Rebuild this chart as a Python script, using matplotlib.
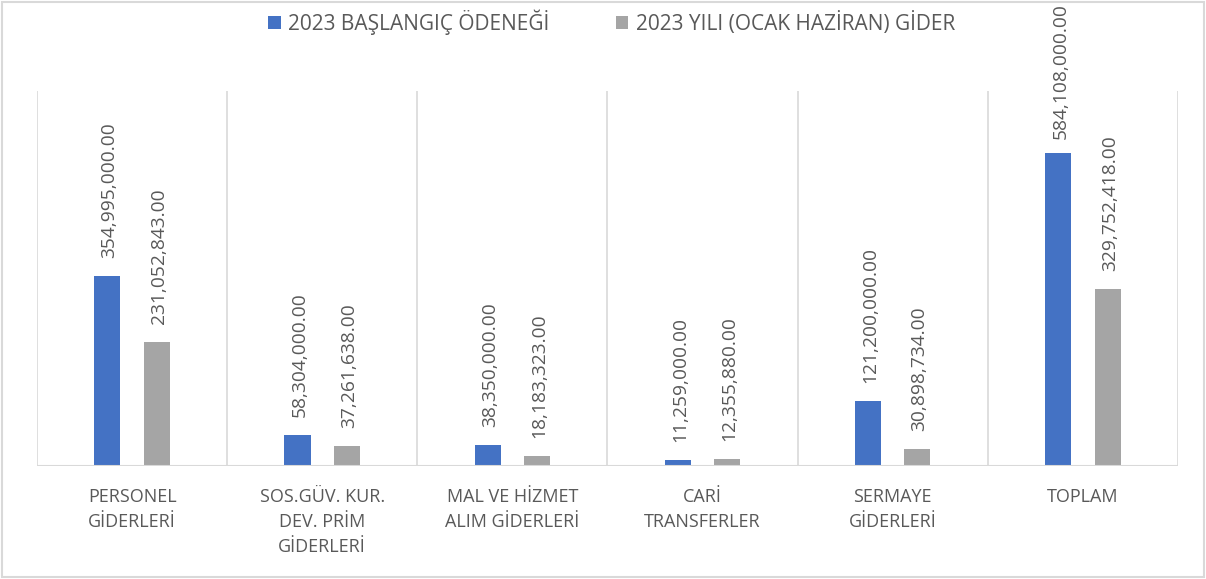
import matplotlib
matplotlib.use("Agg")
import matplotlib.pyplot as plt
import numpy as np
from matplotlib.patches import Rectangle

# =========================
# DATA
# =========================
categories = [
    "PERSONEL\nGİDERLERİ",
    "SOS.GÜV. KUR.\nDEV. PRİM\nGİDERLERİ",
    "MAL VE HİZMET\nALIM GİDERLERİ",
    "CARİ\nTRANSFERLER",
    "SERMAYE\nGİDERLERİ",
    "TOPLAM",
]
budget_2023 = [354995000.00, 58304000.00, 38350000.00, 11259000.00, 121200000.00, 584108000.00]
spent_2023 = [231052843.00, 37261638.00, 18183323.00, 12355880.00, 30898734.00, 329752418.00]
series_names = ["2023 BAŞLANGIÇ ÖDENEĞİ", "2023 YILI (OCAK HAZİRAN) GİDER"]

BLUE = "#4472c4"
GRAY = "#a5a5a5"
TEXT = "#595959"
GRID = "#d9d9d9"

plt.rcParams["font.family"] = ["Open Sans", "DejaVu Sans"]

fig = plt.figure(figsize=(12.06, 5.79), dpi=100)
ax = fig.add_axes([0.0307, 0.1952, 0.946, 0.6476])

x = np.arange(len(categories))
w = 0.137
off = 0.13
b1 = ax.bar(x - off, budget_2023, width=w, color=BLUE, label=series_names[0], zorder=3)
b2 = ax.bar(x + off, spent_2023, width=w, color=GRAY, label=series_names[1], zorder=3)

ax.set_xlim(-0.5, len(categories) - 0.5)
ax.set_ylim(0, 700000000)

# data labels, rotated like excel; pushed down when they would leave the chart
fig.canvas.draw()
renderer = fig.canvas.get_renderer()
fig_h = fig.bbox.height
for bars, vals in ((b1, budget_2023), (b2, spent_2023)):
    for r, v in zip(bars, vals):
        t = ax.annotate(f"{v:,.2f}", (r.get_x() + r.get_width() / 2 + 0.012, v),
                        xytext=(0, 13), textcoords="offset points",
                        rotation=90, ha="center", va="bottom",
                        fontsize=13.8, color=TEXT, annotation_clip=False)
        top = t.get_window_extent(renderer).y1
        if top > fig_h - 3:
            t.xyann = (0, 13 - (top - (fig_h - 3)) * 72 / fig.dpi)

# category separators
for s in np.arange(-0.5, len(categories), 1.0):
    ax.axvline(s, color=GRID, lw=1.2, zorder=1)
ax.axhline(0, color=GRID, lw=1.5, zorder=4)

for sp in ax.spines.values():
    sp.set_visible(False)
ax.set_yticks([])
ax.set_xticks(x)
ax.set_xticklabels(categories, fontsize=13, color=TEXT, linespacing=1.5)
ax.tick_params(axis="x", length=0, pad=16)

fig.legend(handles=[b1, b2], loc="center", bbox_to_anchor=(0.507, 0.962), ncol=2,
           frameon=False, fontsize=15, handlelength=0.6, handleheight=0.6,
           handletextpad=0.35, columnspacing=3.2, labelcolor=TEXT)

# outer chart border
fig.patches.append(Rectangle((0.002, 0.003), 0.996, 0.994, transform=fig.transFigure,
                             fill=False, edgecolor=GRID, lw=1.5))

fig.savefig("out.png", dpi=100)
